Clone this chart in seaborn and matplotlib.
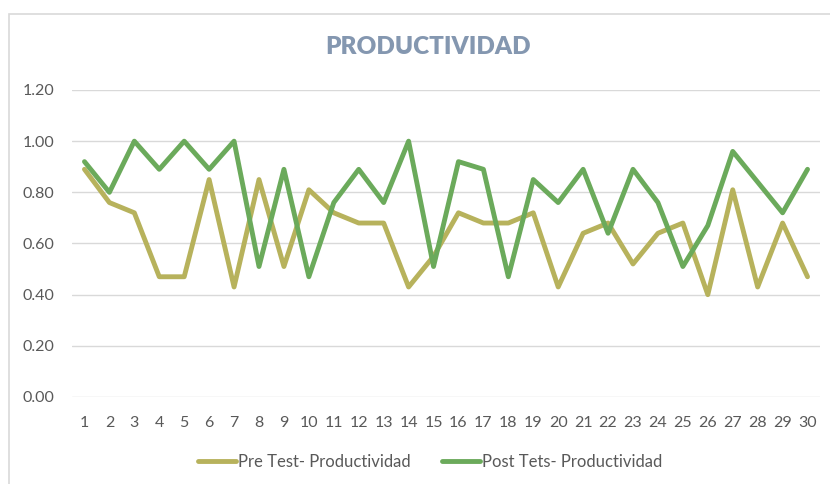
import matplotlib
matplotlib.use("Agg")
import matplotlib.pyplot as plt
import seaborn as sns
import pandas as pd
from matplotlib.patches import Rectangle

# Productivity per worker, before and after the intervention
workers = list(range(1, 31))
pre_test = [0.89, 0.76, 0.72, 0.47, 0.47, 0.85, 0.43, 0.85, 0.51, 0.81,
            0.72, 0.68, 0.68, 0.43, 0.55, 0.72, 0.68, 0.68, 0.72, 0.43,
            0.64, 0.68, 0.52, 0.64, 0.68, 0.40, 0.81, 0.43, 0.68, 0.47]
post_test = [0.92, 0.80, 1.00, 0.89, 1.00, 0.89, 1.00, 0.51, 0.89, 0.47,
             0.76, 0.89, 0.76, 1.00, 0.51, 0.92, 0.89, 0.47, 0.85, 0.76,
             0.89, 0.64, 0.89, 0.76, 0.51, 0.67, 0.96, 0.84, 0.72, 0.89]
series_names = ["Pre Test- Productividad", "Post Tets- Productividad"]
y_ticks = [0.0, 0.2, 0.4, 0.6, 0.8, 1.0, 1.2]

df = pd.DataFrame({"x": workers * 2,
                   "valor": pre_test + post_test,
                   "serie": [series_names[0]] * 30 + [series_names[1]] * 30})

sns.set_theme(style="white")
plt.rcParams["font.family"] = ["Lato", "DejaVu Sans"]

W, H = 830, 484
fig = plt.figure(figsize=(W / 100, H / 100), dpi=100)
ax = fig.add_axes([72 / W, 1 - 397 / H, (820 - 72) / W, (397 - 90) / H])

palette = {series_names[0]: "#B7B25C", series_names[1]: "#6BAA5B"}
sns.lineplot(data=df, x="x", y="valor", hue="serie", palette=palette,
             linewidth=3.5, ax=ax, legend=False)

ax.set_xlim(0.5, 30.5)
ax.set_ylim(0, 1.2)
ax.set_yticks(y_ticks)
ax.set_yticklabels([f"{v:.2f}" for v in y_ticks])
ax.set_xticks(workers)
ax.set_xticklabels([str(w) for w in workers])
ax.tick_params(axis="both", length=0, labelsize=11.5, colors="#595959")
ax.tick_params(axis="y", pad=13)
ax.tick_params(axis="x", pad=14)
ax.set_xlabel("")
ax.set_ylabel("")
ax.grid(axis="y", color="#D9D9D9", linewidth=1)
ax.set_axisbelow(True)
for s in ax.spines.values():
    s.set_visible(False)

# Chart area frame
fig.patches.append(Rectangle((9 / W, -0.05), 1.1, 1 - 14 / H + 0.05,
                             transform=fig.transFigure, fill=False,
                             edgecolor="#D9D9D9", linewidth=1.2))

fig.text(428 / W, 1 - 47 / H, "PRODUCTIVIDAD", ha="center", va="center",
         fontsize=17.5, fontweight="heavy", color="#8497B0")

# Legend
handles = [plt.Line2D([], [], color=palette[n], linewidth=3.5) for n in series_names]
fig.legend(handles, series_names, loc="center", bbox_to_anchor=(430 / W, 1 - 462 / H),
           ncol=2, frameon=False, fontsize=12, labelcolor="#595959",
           handlelength=2.3, handletextpad=0.1, columnspacing=1.9)

fig.savefig("out.png", dpi=100)
